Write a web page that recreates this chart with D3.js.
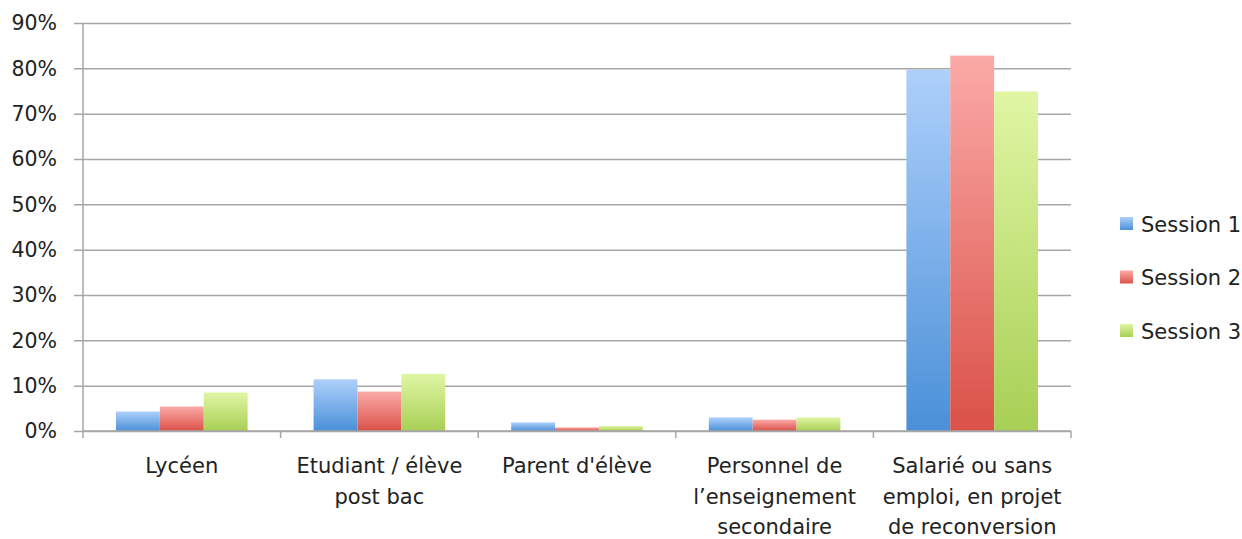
<!DOCTYPE html>
<html>
<head>
<meta charset="utf-8">
<script src="https://d3js.org/d3.v7.min.js"></script>
<style>
  body { margin: 0; background: #fff; }
  svg { font-family: "DejaVu Sans", sans-serif; }
  .grid line { stroke: #a6a6a6; stroke-width: 1.5; }
  .grid path { stroke-width: 0; }
</style>
</head>
<body>
<script>
  // data
  var categories = ["Lycéen", "Etudiant / élève post bac", "Parent d'élève",
                    "Personnel de l’enseignement secondaire",
                    "Salarié ou sans emploi, en projet de reconversion"];
  var categoryLines = [["Lycéen"], ["Etudiant / élève", "post bac"], ["Parent d'élève"],
                       ["Personnel de", "l’enseignement", "secondaire"],
                       ["Salarié ou sans", "emploi, en projet", "de reconversion"]];
  var seriesNames = ["Session 1", "Session 2", "Session 3"];
  var session1 = [0.043, 0.114, 0.019, 0.030, 0.797];
  var session2 = [0.054, 0.087, 0.008, 0.025, 0.828];
  var session3 = [0.085, 0.126, 0.011, 0.030, 0.749];
  var yTicks = [0, 0.1, 0.2, 0.3, 0.4, 0.5, 0.6, 0.7, 0.8, 0.9];

  var seriesValues = [session1, session2, session3];
  var colorsTop = ["#aed0fb", "#fbaaa7", "#e0f6a4"];
  var colorsBottom = ["#4a90d8", "#da5148", "#a8cf55"];

  var W = 1242, H = 539;
  var margin = {top: 23, right: 171, bottom: 108, left: 83};
  var width = W - margin.left - margin.right,
      height = H - margin.top - margin.bottom;

  var svg = d3.select("body").append("svg")
      .attr("width", W).attr("height", H);

  var defs = svg.append("defs");
  seriesNames.forEach(function(s, i) {
    var g = defs.append("linearGradient")
        .attr("id", "grad" + i)
        .attr("x1", 0).attr("y1", 0).attr("x2", 0).attr("y2", 1);
    g.append("stop").attr("offset", "0%").attr("stop-color", colorsTop[i]);
    g.append("stop").attr("offset", "100%").attr("stop-color", colorsBottom[i]);
  });

  var g = svg.append("g")
      .attr("transform", "translate(" + margin.left + "," + margin.top + ")");

  var x0 = d3.scaleBand().domain(categories).range([0, width]);
  var bw = x0.bandwidth();
  var x1 = d3.scaleBand().domain(seriesNames).range([bw * 0.167, bw * 0.833]);
  var y = d3.scaleLinear().domain([0, 0.9]).range([height, 0]);

  // gridlines
  g.append("g")
      .attr("class", "grid")
      .attr("transform", "translate(-9,0)")
      .call(d3.axisRight(y).tickValues(yTicks).tickSize(width + 9).tickFormat(""));

  // y axis labels
  g.append("g").selectAll("text")
      .data(yTicks)
    .enter().append("text")
      .attr("x", -26)
      .attr("y", function(d) { return y(d); })
      .attr("dy", "0.36em")
      .attr("text-anchor", "end")
      .attr("font-size", "20.5px")
      .attr("fill", "#222")
      .text(d3.format(".0%"));

  // y axis line
  g.append("line")
      .attr("x1", 0).attr("x2", 0)
      .attr("y1", 0).attr("y2", height)
      .attr("stroke", "#a6a6a6").attr("stroke-width", 1.5);

  // bars
  var groups = g.selectAll(".cat")
      .data(categories)
    .enter().append("g")
      .attr("class", "cat")
      .attr("transform", function(d) { return "translate(" + x0(d) + ",0)"; });

  groups.selectAll("rect")
      .data(function(d, ci) {
        return seriesNames.map(function(s, si) { return {s: s, si: si, v: seriesValues[si][ci]}; });
      })
    .enter().append("rect")
      .attr("x", function(d) { return x1(d.s); })
      .attr("width", x1.bandwidth())
      .attr("y", function(d) { return y(d.v); })
      .attr("height", function(d) { return height - y(d.v); })
      .attr("fill", function(d) { return "url(#grad" + d.si + ")"; });

  // x axis
  g.append("line")
      .attr("x1", 0).attr("x2", width)
      .attr("y1", height).attr("y2", height)
      .attr("stroke", "#a6a6a6").attr("stroke-width", 1.5);

  var bounds = categories.map(function(c) { return x0(c); }).concat([width]);
  g.selectAll(".xtick")
      .data(bounds)
    .enter().append("line")
      .attr("x1", function(d) { return d; }).attr("x2", function(d) { return d; })
      .attr("y1", height).attr("y2", height + 7)
      .attr("stroke", "#a6a6a6").attr("stroke-width", 1.5);

  // category labels
  categories.forEach(function(c, i) {
    var t = g.append("text")
        .attr("x", x0(c) + bw / 2)
        .attr("y", height + 42)
        .attr("text-anchor", "middle")
        .attr("font-size", "21px")
        .attr("fill", "#222");
    categoryLines[i].forEach(function(line, li) {
      t.append("tspan")
        .attr("x", x0(c) + bw / 2)
        .attr("y", height + 42 + li * 30.5)
        .text(line);
    });
  });

  // legend
  var legend = svg.append("g").attr("transform", "translate(1120,217)");
  seriesNames.forEach(function(s, i) {
    var row = legend.append("g").attr("transform", "translate(0," + i * 53.5 + ")");
    row.append("rect")
        .attr("width", 13).attr("height", 13)
        .attr("fill", "url(#grad" + i + ")");
    row.append("text")
        .attr("x", 21).attr("y", 7)
        .attr("dy", "0.36em")
        .attr("font-size", "21px")
        .attr("fill", "#222")
        .text(s);
  });
</script>
</body>
</html>
